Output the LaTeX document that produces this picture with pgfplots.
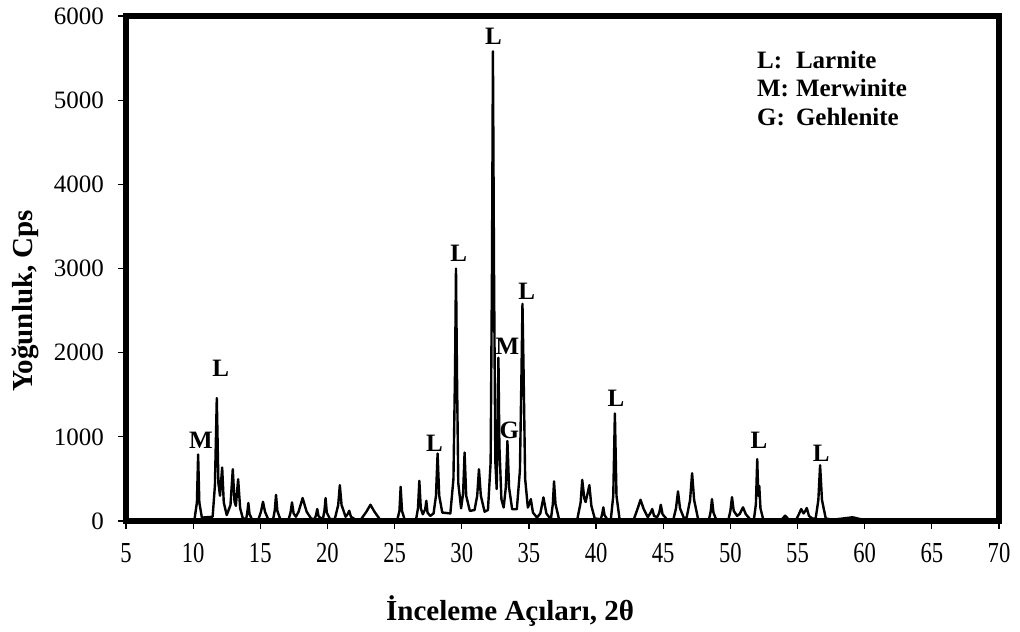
\documentclass[border=0pt]{standalone}
\usepackage{fontspec}
\setmainfont{Liberation Serif}
\newfontfamily\condserif{Liberation Serif}[FakeStretch=0.78]
\usepackage{pgfplots}
\pgfplotsset{compat=1.18}
\tikzset{peak/.style={font=\bfseries\fontsize{12.5}{14}\selectfont, inner sep=0pt}}
\begin{document}
\begin{tikzpicture}
\begin{axis}[name=ax, scale only axis, width=436.5pt, height=252.5pt,
  xmin=5, xmax=70, ymin=0, ymax=6000,
  xtick={5,10,...,70}, ytick={0,1000,...,6000},
  tick align=outside, tick pos=left, major tick length=4pt,
  tick style={black, line width=0.6pt},
  axis line style={line width=3.2pt},
  axis on top,
  /pgf/number format/assume math mode=true,
  /pgf/number format/1000 sep={},
  xticklabel style={font=\condserif\fontsize{14.5}{16}\selectfont, yshift=-3.5pt},
  yticklabel style={font=\fontsize{12.5}{14}\selectfont, xshift=-3.5pt},
  xlabel={İnceleme Açıları, 2θ}, ylabel={Yoğunluk, Cps},
  xlabel style={font=\bfseries\fontsize{14.5}{16}\selectfont,
    at={(axis description cs:0.44,-0.178)}, anchor=center},
  ylabel style={font=\bfseries\fontsize{14.5}{16}\selectfont,
    at={(axis description cs:-0.115,0.436)}, anchor=center}]
\addplot[black, line width=1.2pt, line join=round] coordinates {
(5,12) (9.9,12)
(10.1,20) (10.28,220) (10.37,790) (10.46,220) (10.65,40)
(11.45,50) (11.62,420) (11.76,1460) (11.88,450) (12.0,300)
(12.16,635) (12.28,220) (12.5,70)
(12.78,190) (12.95,615) (13.08,230) (13.18,180)
(13.35,497) (13.5,150) (13.7,30)
(13.95,25) (14.03,100) (14.11,213) (14.2,80) (14.4,15)
(14.85,15) (15.05,110) (15.2,228) (15.35,110) (15.6,15)
(15.95,15) (16.08,130) (16.17,311) (16.27,120) (16.5,15)
(17.1,15) (17.25,100) (17.36,221) (17.48,90) (17.65,50)
(17.85,110) (18.15,272) (18.45,110) (18.8,25)
(19.05,25) (19.15,70) (19.24,142) (19.33,60) (19.5,30)
(19.68,40) (19.78,130) (19.86,272) (19.95,100) (20.2,20)
(20.55,25) (20.8,190) (20.92,426) (21.05,190) (21.35,50)
(21.52,85) (21.62,122) (21.75,50) (22.1,15)
(22.5,20) (22.9,110) (23.2,193) (23.5,110) (23.9,20)
(25.2,15) (25.36,120) (25.45,406) (25.55,120) (25.75,15)
(26.6,20) (26.74,150) (26.84,477) (26.95,150) (27.1,80)
(27.28,140) (27.36,240) (27.45,100) (27.65,60)
(27.9,90) (28.08,300) (28.2,801) (28.32,300) (28.55,100)
(29.15,90) (29.38,500) (29.5,1800) (29.57,3000) (29.64,1800) (29.74,450) (29.95,150)
(30.1,330) (30.21,813) (30.33,300) (30.6,120)
(30.95,130) (31.15,300) (31.28,615) (31.42,300) (31.7,110)
(31.95,130) (32.15,700) (32.25,3000) (32.32,5580) (32.4,3000) (32.5,700) (32.6,380)
(32.66,1000) (32.73,1940) (32.8,900) (32.95,260) (33.12,160)
(33.28,400) (33.4,950) (33.52,400) (33.75,140)
(34.1,140) (34.33,600) (34.45,1800) (34.52,2580) (34.6,1800) (34.72,500) (34.92,160)
(35.05,210) (35.14,260) (35.3,100) (35.6,40)
(35.85,90) (36.08,280) (36.3,90) (36.55,35)
(36.65,40) (36.78,200) (36.87,470) (36.98,200) (37.25,15)
(38.6,20) (38.85,220) (38.97,489) (39.12,270) (39.22,225)
(39.4,350) (39.5,426) (39.65,180) (39.9,30)
(40.35,20) (40.45,80) (40.54,162) (40.63,70) (40.85,15)
(41.1,20) (41.28,300) (41.4,1278) (41.52,300) (41.75,20)
(42.8,15) (43.1,150) (43.31,252) (43.55,140) (43.85,45)
(44.05,95) (44.18,142) (44.32,60) (44.55,45)
(44.7,95) (44.82,193) (44.95,80) (45.3,15)
(45.75,15) (45.95,150) (46.1,351) (46.25,150) (46.55,30)
(46.75,45) (47.0,250) (47.15,568) (47.3,250) (47.6,20)
(48.4,15) (48.53,110) (48.63,260) (48.74,100) (48.95,15)
(49.85,15) (50.0,120) (50.12,284) (50.25,120) (50.5,60)
(50.7,85) (50.94,162) (51.15,80) (51.5,15)
(51.75,15) (51.9,200) (52.0,734) (52.08,300) (52.15,418) (52.24,150) (52.45,15)
(53.8,15) (54.08,63) (54.35,15)
(54.9,15) (55.1,80) (55.27,142) (55.45,90)
(55.58,120) (55.69,154) (55.85,60) (56.1,30)
(56.35,30) (56.55,250) (56.68,663) (56.82,250) (57.1,30)
(57.6,15) (58.4,30) (59.1,44) (59.6,25) (60.2,10) (70,10)
};
\node[peak] at (axis cs:10.57,962) {M};
\node[peak] at (axis cs:12.06,1818) {L};
\node[peak] at (axis cs:27.96,925) {L};
\node[peak] at (axis cs:29.77,3184) {L};
\node[peak] at (axis cs:32.36,5755) {L};
\node[peak] at (axis cs:33.4,2070) {M};
\node[peak] at (axis cs:33.55,1080) {G};
\node[peak] at (axis cs:34.84,2725) {L};
\node[peak] at (axis cs:41.48,1457) {L};
\node[peak] at (axis cs:52.12,962) {L};
\node[peak] at (axis cs:56.76,804) {L};
\node[anchor=west, inner sep=0pt, font=\bfseries\fontsize{12.5}{14.3}\selectfont]
  at (axis cs:51.96,5110) {\begin{tabular}{@{}l@{\hspace{3.5pt}}l@{}}
  L: & Larnite\\ M: & Merwinite\\ G: & Gehlenite\end{tabular}};
\end{axis}
\pgfresetboundingbox
\path ([shift={(-63pt,-55.5pt)}]ax.south west) rectangle ([shift={(10.5pt,8pt)}]ax.north east);
\end{tikzpicture}
\end{document}
